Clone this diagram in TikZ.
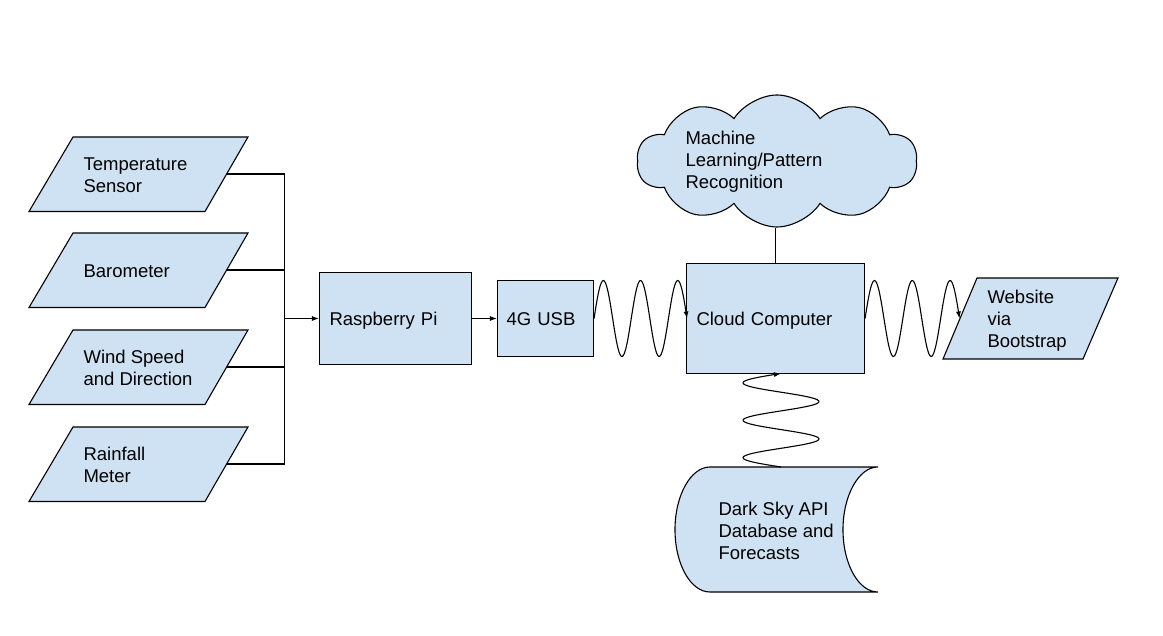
\documentclass[tikz,border=0pt]{standalone}
\usepackage{fontspec}
\setmainfont{Liberation Sans}
\usetikzlibrary{shapes.symbols,arrows.meta}
\definecolor{boxfill}{RGB}{207,226,243}
\begin{document}
\begin{tikzpicture}[x=1pt,y=-1pt,
  line width=1.1pt,
  every node/.style={font=\fontsize{18.5}{22}\selectfont},
  shapefill/.style={draw=black, fill=boxfill, line join=miter},
  boxnode/.style={shapefill, rectangle, inner xsep=10pt, inner ysep=0pt, align=left,
                  text height=13.3pt, text depth=0pt},
  txtlbl/.style={anchor=west, inner sep=0pt, align=left},
  arrowtip/.style={-{Latex[length=7pt,width=5pt]}},
  wavy/.style={arrowtip, line width=1.1pt},
]
\useasboundingbox (0,0) rectangle (1163,636);

% input parallelograms
\path[shapefill] (73,137) -- (248,137) -- (205,211.5) -- (29,211.5) -- cycle;
\path[shapefill] (73,233) -- (248,233) -- (205,307.5) -- (29,307.5) -- cycle;
\path[shapefill] (73,330) -- (248,330) -- (205,404.5) -- (29,404.5) -- cycle;
\path[shapefill] (73,427) -- (248,427) -- (205,501.5) -- (29,501.5) -- cycle;
\node[txtlbl] (temp) at (83,175) {Temperature\\Sensor};
\node[txtlbl] (baro) at (83,271) {Barometer};
\node[txtlbl] (wind) at (83,368) {Wind Speed\\and Direction};
\node[txtlbl] (rain) at (83,465) {Rainfall\\Meter};
\coordinate (tempout) at (226.5,174);
\coordinate (baroout) at (226.5,270);
\coordinate (windout) at (226.5,367);
\coordinate (rainout) at (226.5,464);

% boxes
\node[boxnode, text width=132pt, minimum height=92pt] (rpi) at (395.5,318.5) {Raspberry Pi};
\node[boxnode, inner xsep=9pt, text width=78pt, minimum height=76pt] (usb) at (545.5,318.5) {4G USB};
\node[boxnode, text width=158pt, minimum height=110pt] (cc) at (775.5,318.5) {Cloud Computer};

% bus
\coordinate (bus) at (284.5,318.5);
\draw (tempout) -| (bus);
\draw (rainout) -| (bus);
\draw (baroout) -- (baroout -| bus);
\draw (windout) -- (windout -| bus);
\draw[arrowtip] (bus) -- (rpi.west);
\draw[arrowtip] (rpi.east) -- (usb.west);

% website
\path[shapefill] (977,278) -- (1118,278) -- (1083,359) -- (943,359) -- cycle;
\node[txtlbl] (web) at (987,321) {Website\\via\\Bootstrap};
\coordinate (webin) at (959,318.5);

% waves (2.5 periods each, from node to node)
\draw[wavy, shift={(usb.east)}] plot[domain=0:93, samples=90, smooth]
  (\x, {-38*sin(\x*9.677419)});
\draw[wavy, shift={(cc.east)}] plot[domain=0:94.5, samples=90, smooth]
  (\x, {-38*sin(\x*9.523810)});

% cloud
\node[cloud, shapefill, cloud puffs=10, cloud puff arc=115, cloud ignores aspect,
      minimum width=280pt, minimum height=132pt, inner sep=0pt] (ml) at (777,161) {};
\node[txtlbl] (mltext) at (685,161.5) {Machine\\Learning/Pattern\\Recognition};
\draw (cc.north) -- (cc.north |- ml.south);

% storage
\path[shapefill] (710,467) -- (878,467)
  .. controls (858.7,467) and (843,495.5) .. (843,529.5)
  .. controls (843,564.5) and (858.7,592) .. (878,592)
  -- (710,592)
  .. controls (690.7,592) and (675,564.5) .. (675,529.5)
  .. controls (675,495.5) and (690.7,467) .. (710,467) -- cycle;
\node[txtlbl] (ds) at (718,531) {Dark Sky API\\Database and\\Forecasts};
\coordinate (dstop) at (781,467);
\draw[wavy, shift={(dstop)}] plot[domain=0:93.5, samples=90, smooth]
  ({-38*sin(\x*9.625668)}, {-\x});
\end{tikzpicture}
\end{document}
